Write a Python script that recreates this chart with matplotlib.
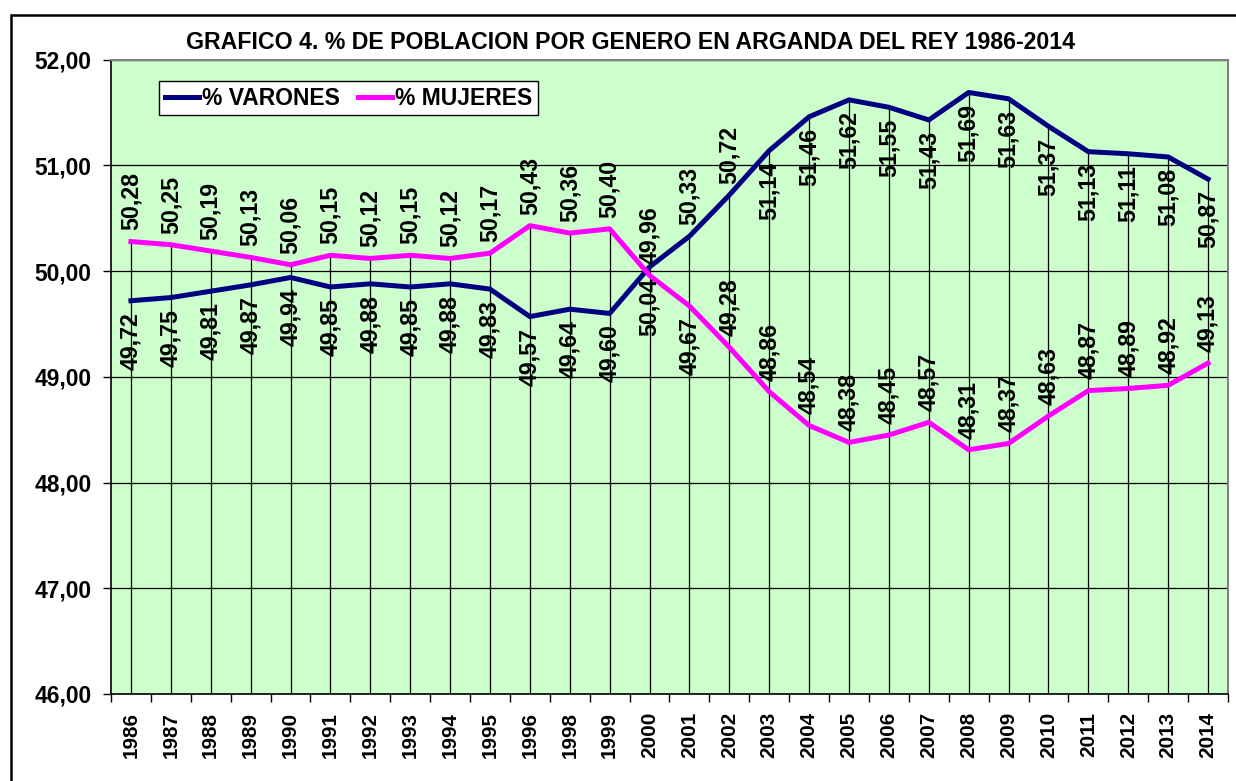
import matplotlib
matplotlib.use("Agg")
import matplotlib.pyplot as plt
from matplotlib.patches import Rectangle

plt.rcParams["font.family"] = ["Liberation Sans", "DejaVu Sans"]
plt.rcParams["font.weight"] = "bold"

years = ["1986", "1987", "1988", "1989", "1990", "1991", "1992", "1993", "1994",
         "1995", "1996", "1998", "1999", "2000", "2001", "2002", "2003", "2004",
         "2005", "2006", "2007", "2008", "2009", "2010", "2011", "2012", "2013", "2014"]
varones = [49.72, 49.75, 49.81, 49.87, 49.94, 49.85, 49.88, 49.85, 49.88, 49.83,
           49.57, 49.64, 49.60, 50.04, 50.33, 50.72, 51.14, 51.46, 51.62, 51.55,
           51.43, 51.69, 51.63, 51.37, 51.13, 51.11, 51.08, 50.87]
mujeres = [50.28, 50.25, 50.19, 50.13, 50.06, 50.15, 50.12, 50.15, 50.12, 50.17,
           50.43, 50.36, 50.40, 49.96, 49.67, 49.28, 48.86, 48.54, 48.38, 48.45,
           48.57, 48.31, 48.37, 48.63, 48.87, 48.89, 48.92, 49.13]
y_ticks = [46, 47, 48, 49, 50, 51, 52]

title = "GRAFICO 4. % DE POBLACION POR GENERO EN ARGANDA DEL REY 1986-2014"
navy = "#000080"
magenta = "#FF00FF"

W, H = 1236, 781
fig = plt.figure(figsize=(W / 100, H / 100), dpi=100)
ax = fig.add_axes([111 / W, 1 - 694 / H, 1117 / W, 634.3 / H])
ax.set_facecolor("#CCFFCC")

x = list(range(len(years)))

# drop lines from the higher series down to the axis
tops = [max(a, b) for a, b in zip(varones, mujeres)]
ax.vlines(x, 46, tops, color="black", lw=0.9, zorder=2)

ax.plot(x, varones, color=navy, lw=3.6, label="% VARONES", zorder=4)
ax.plot(x, mujeres, color=magenta, lw=3.6, label="% MUJERES", zorder=4)


def fmt(v):
    return f"{v:.2f}".replace(".", ",")


def label(i, v, above):
    ax.annotate(fmt(v), (x[i], v), xytext=(0, 8 if above else -8),
                textcoords="offset points", rotation=90, ha="center",
                va="bottom" if above else "top", fontsize=16.7,
                fontweight="bold", zorder=5)


for i, yr in enumerate(years):
    label(i, varones[i], yr in ("2001", "2002"))
    label(i, mujeres[i], yr != "2001")

ax.set_xlim(-0.5, len(years) - 0.5)
ax.set_ylim(46, 52)
ax.set_yticks(y_ticks)
ax.set_yticklabels([f"{v},00" for v in y_ticks], fontsize=16.4, fontweight="bold")
ax.yaxis.grid(True, color="black", lw=0.9)
ax.set_axisbelow(True)

ax.set_xticks(x)
ax.set_xticklabels(years, rotation=90, fontsize=14.9, fontweight="bold")
ax.set_xticks([i - 0.5 for i in range(len(years) + 1)], minor=True)
ax.tick_params(axis="x", which="major", length=0, pad=13)
ax.tick_params(axis="x", which="minor", length=6, width=1, color="black", direction="out")
ax.tick_params(axis="y", length=6, width=1, pad=8)

for side in ("top", "right"):
    ax.spines[side].set_color("#808080")
    ax.spines[side].set_linewidth(1.5)
for side in ("left", "bottom"):
    ax.spines[side].set_color("black")
    ax.spines[side].set_linewidth(1.2)

leg = ax.legend(loc="upper left", bbox_to_anchor=(159 / W, 1 - 81 / H),
                bbox_transform=fig.transFigure, ncol=2, frameon=True, fancybox=False,
                borderaxespad=0, borderpad=0.25, handlelength=1.5, handletextpad=0.12,
                columnspacing=0.8, prop={"size": 16.5, "weight": "bold"})
leg.get_frame().set_edgecolor("black")
leg.get_frame().set_linewidth(1.0)
leg.get_frame().set_alpha(1)

fig.text(630.5 / W, 1 - 49.3 / H, title, ha="center", va="baseline",
         fontsize=16.7, fontweight="bold")

fig.add_artist(Rectangle((10.5 / W, -0.5), 2, (1 - 14.5 / H) + 0.5, fill=False,
                         lw=1.8, edgecolor="black", transform=fig.transFigure))

fig.savefig("out.png", dpi=100)
